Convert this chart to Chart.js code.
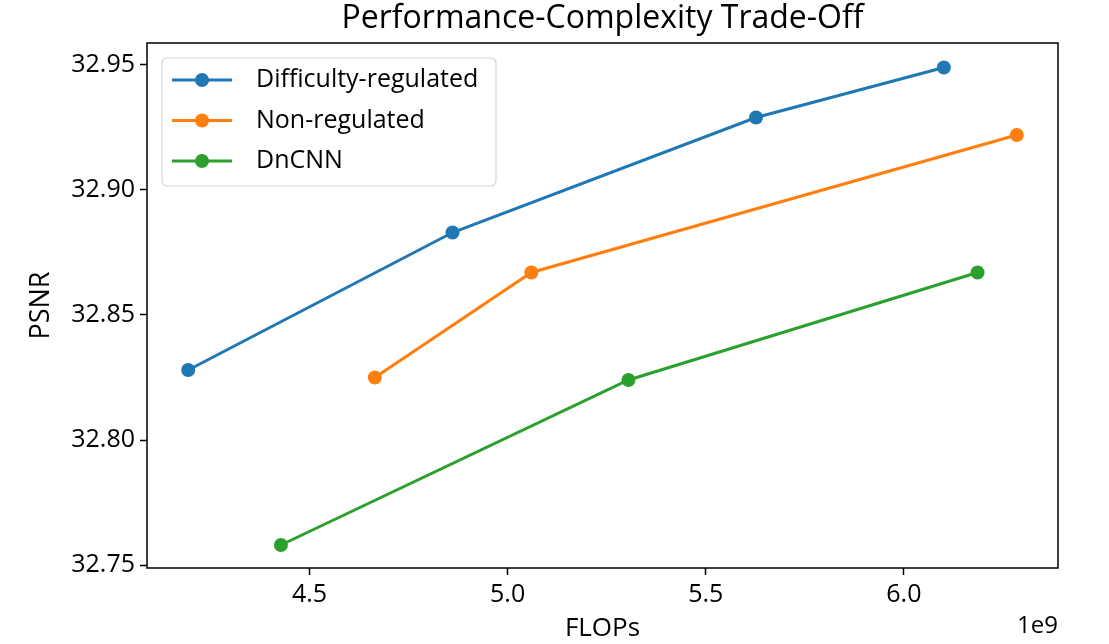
<!DOCTYPE html>
<html>
<head>
<meta charset="utf-8">
<script src="https://cdn.jsdelivr.net/npm/chart.js@4.4.1/dist/chart.umd.min.js"></script>
<style>
  html, body { margin: 0; padding: 0; background: #fff; }
</style>
</head>
<body>
<canvas id="myChart" width="1109" height="644"></canvas>
<script>
// series (FLOPs, PSNR)
var seriesNames = ['Difficulty-regulated', 'Non-regulated', 'DnCNN'];
var seriesColors = ['#1f77b4', '#ff7f0e', '#2ca02c'];

var diffFlops = [4.194e9, 4.861e9, 5.627e9, 6.101e9];
var diffPsnr = [32.828, 32.883, 32.929, 32.949];

var nonFlops = [4.665e9, 5.060e9, 6.285e9];
var nonPsnr = [32.825, 32.867, 32.922];

var dnFlops = [4.428e9, 5.305e9, 6.186e9];
var dnPsnr = [32.758, 32.824, 32.867];

var xTicks = [4.5e9, 5.0e9, 5.5e9, 6.0e9];
var yTicks = [32.75, 32.80, 32.85, 32.90, 32.95];

var chartTitle = 'Performance-Complexity Trade-Off';

var FONT = "'Open Sans', 'Noto Sans', sans-serif";

function pts(xs, ys) {
  return xs.map(function (x, i) { return { x: x, y: ys[i] }; });
}

function mkSet(i, xs, ys) {
  return {
    label: seriesNames[i],
    data: pts(xs, ys),
    showLine: true,
    borderColor: seriesColors[i],
    backgroundColor: seriesColors[i],
    borderWidth: 3,
    pointRadius: 7,
    pointHoverRadius: 7,
    pointBorderWidth: 0
  };
}

// title over the plot, frame, in-plot legend and the 1e9 offset label
var extras = {
  id: 'extras',
  afterDraw: function (chart) {
    var c = chart.ctx, a = chart.chartArea;
    c.save();
    c.strokeStyle = '#000';
    c.lineWidth = 1.5;
    c.strokeRect(a.left, a.top, a.right - a.left, a.bottom - a.top);

    c.fillStyle = '#000';
    c.font = '32px ' + FONT;
    c.textAlign = 'center';
    c.textBaseline = 'middle';
    c.fillText(chartTitle, (a.left + a.right) / 2, 19);

    // legend box
    var bx = a.left + 15, by = a.top + 15, bw = 334, bh = 128;
    c.beginPath();
    c.roundRect(bx, by, bw, bh, 5);
    c.fillStyle = 'rgba(255,255,255,0.8)';
    c.fill();
    c.strokeStyle = '#d6d6d6';
    c.lineWidth = 1.2;
    c.stroke();
    c.font = '25px ' + FONT;
    c.textBaseline = 'middle';
    c.textAlign = 'left';
    chart.data.datasets.forEach(function (ds, i) {
      var y = by + 22 + i * 40.5;
      c.strokeStyle = ds.borderColor;
      c.lineWidth = 3;
      c.beginPath();
      c.moveTo(bx + 10, y);
      c.lineTo(bx + 70, y);
      c.stroke();
      c.fillStyle = ds.borderColor;
      c.beginPath();
      c.arc(bx + 40, y, 7, 0, Math.PI * 2);
      c.fill();
      c.fillStyle = '#000';
      c.fillText(ds.label, bx + 94, y);
    });

    c.font = '24px ' + FONT;
    c.textAlign = 'right';
    c.textBaseline = 'middle';
    c.fillStyle = '#000';
    c.fillText('1e9', a.right, 626);
    c.restore();
  }
};

new Chart(document.getElementById('myChart'), {
  type: 'scatter',
  data: {
    datasets: [
      mkSet(0, diffFlops, diffPsnr),
      mkSet(1, nonFlops, nonPsnr),
      mkSet(2, dnFlops, dnPsnr)
    ]
  },
  options: {
    responsive: false,
    animation: false,
    layout: { padding: { left: 0, right: 51, top: 43, bottom: 0 } },
    plugins: {
      legend: { display: false },
      tooltip: { enabled: false },
      title: { display: false }
    },
    scales: {
      x: {
        type: 'linear',
        min: 4.090e9,
        max: 6.389e9,
        afterBuildTicks: function (s) { s.ticks = xTicks.map(function (v) { return { value: v }; }); },
        afterFit: function (s) { s.height = 76; },
        grid: { drawOnChartArea: false, drawTicks: true, tickLength: 7, tickWidth: 1.5, color: '#000' },
        border: { display: false },
        ticks: {
          color: '#000',
          padding: 5,
          maxRotation: 0,
          font: { family: FONT, size: 25 },
          callback: function (v) { return (v / 1e9).toFixed(1); }
        },
        title: {
          display: true,
          text: 'FLOPs',
          color: '#000',
          font: { family: FONT, size: 26 },
          padding: { top: 0, bottom: 0 }
        }
      },
      y: {
        type: 'linear',
        min: 32.7488,
        max: 32.9588,
        afterBuildTicks: function (s) { s.ticks = yTicks.map(function (v) { return { value: v }; }); },
        afterFit: function (s) { s.width = 147; },
        grid: { drawOnChartArea: false, drawTicks: true, tickLength: 7, tickWidth: 1.5, color: '#000' },
        border: { display: false },
        ticks: {
          color: '#000',
          padding: 5,
          font: { family: FONT, size: 25 },
          callback: function (v) { return v.toFixed(2); }
        },
        title: {
          display: true,
          text: 'PSNR',
          color: '#000',
          font: { family: FONT, size: 27 },
          padding: { top: 25, bottom: 0 }
        }
      }
    }
  },
  plugins: [extras]
});
</script>
</body>
</html>
